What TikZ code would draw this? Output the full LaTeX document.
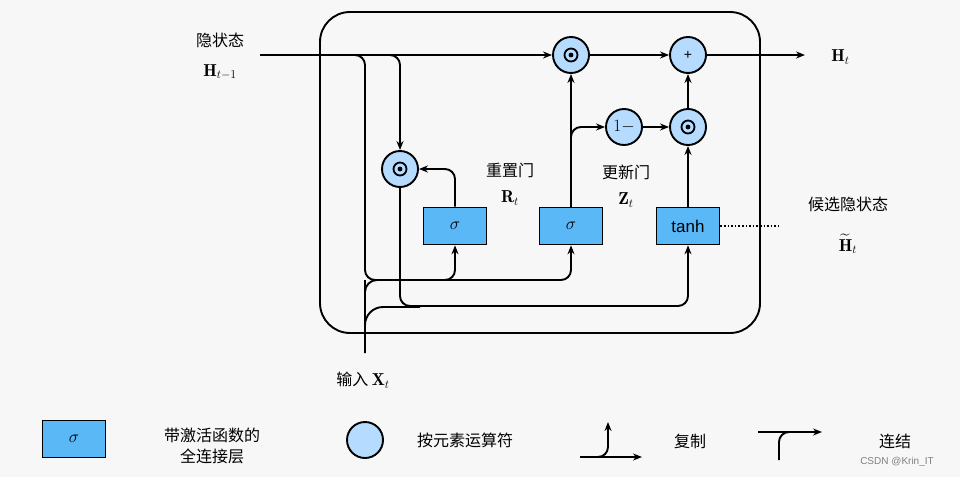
\documentclass[tikz,border=0pt]{standalone}
\usepackage{amsmath,amssymb}
\usepackage{fontspec}
\newfontfamily\sans{Liberation Sans}
\newfontfamily\cjk{Noto Sans CJK SC}
\usetikzlibrary{arrows.meta}
\definecolor{cfill}{HTML}{B5DBFF}
\definecolor{bfill}{HTML}{5AB8F7}
\begin{document}
\begin{tikzpicture}[x=1pt,y=-1pt,
  line width=1.9pt,
  arr/.style={-{Stealth[length=9pt,width=7pt]}},
  op/.style={circle,draw,fill=cfill,minimum size=36pt,inner sep=0pt,line width=1.9pt},
  odot/.style={op,path picture={\draw[line width=1.8pt] (path picture bounding box.center) circle (6.5pt);\fill[black] (path picture bounding box.center) circle (2.4pt);}},
  box/.style={draw,fill=bfill,minimum width=63pt,minimum height=37pt,inner sep=0pt,line width=1.6pt,font=\LARGE},
  lab/.style={font=\cjk\fontsize{16}{16}\selectfont},
  mlab/.style={font=\LARGE}]
\fill[white!97!black] (0,0) rectangle (960,477);
\useasboundingbox (0,0) rectangle (960,477);
% outer box
\draw[rounded corners=30pt] (320,12) rectangle (760,333);
% nodes
\node[odot] (m1) at (571,55) {};
\node[op,font=\sans\fontsize{14}{14}\selectfont] (plus) at (688,55) {+};
\node[op,font=\LARGE] (om) at (624,127) {$1-$};
\node[odot] (m2) at (688,127) {};
\node[odot] (rm) at (400,169) {};
\node[box] (sr) at (455,226) {$\sigma$};
\node[box] (sz) at (571,226) {$\sigma$};
\node[box,font=\sans\fontsize{17}{17}\selectfont] (th) at (688,226) {tanh};
\coordinate (hin) at (260,55);
\coordinate (hout) at (805,55);
\coordinate (xin) at (365,353);
% labels
\node[lab] (l1) at (220,40) {隐状态};
\node[mlab] (l2) at (220,72) {$\mathbf{H}_{t-1}$};
\node[lab] (l3) at (510,170) {重置门};
\node[mlab] (l4) at (510,198) {$\mathbf{R}_t$};
\node[lab] (l5) at (626,172) {更新门};
\node[mlab] (l6) at (626,200) {$\mathbf{Z}_t$};
\node[lab] (l7) at (848,204) {候选隐状态};
\node[mlab] (l8) at (848,244) {$\widetilde{\mathbf{H}}_t$};
\node[mlab,anchor=west] (l9) at (827,57) {$\mathbf{H}_t$};
\node[lab,anchor=west] (l10) at (332,380) {输入 \normalfont\LARGE$\mathbf{X}_t$};
% main flow
\draw[arr] (hin) -- (m1);
\draw[arr] (m1) -- (plus);
\draw[arr] (plus) -- (hout);
\draw[arr] (om) -- (m2);
\draw[arr] (m2) -- (plus);
\draw[arr] (th) -- (m2);
\draw[arr] (sz) -- (m1);
\draw[arr,rounded corners=10pt] (571,140) |- (om.west);
\draw[arr,rounded corners=10pt] (sr.north) |- (rm.east);
\draw[arr,rounded corners=10pt] (355,55) -| (rm.north);
% H branch to gates
\draw[rounded corners=10pt] (350,55) -| (365,280) -- (560,280);
\draw[arr,rounded corners=10pt] (440,280) -| (sr.south);
\draw[arr,rounded corners=10pt] (540,280) -| (sz.south);
% X input
\draw[rounded corners=12pt] (xin) -- (365,292) |- (400,280);
\draw[rounded corners=18pt] (365,330) |- (420,307);
% r*h to tanh
\draw[arr,rounded corners=10pt] (rm.south) |- (688,306) -- (th.south);
\draw[dotted,line width=1.6pt] (th.east) -- (778,226);
% legend
\node[box] (lb) at (74,439) {$\sigma$};
\node[lab,align=center] (lt1) at (212,446) {带激活函数的\\[5pt]全连接层};
\node[op] (lc) at (365,440) {};
\node[lab] (lt2) at (465,440) {按元素运算符};
\coordinate (c1) at (580,457);
\coordinate (c2) at (642,457);
\coordinate (c3) at (608,422);
\draw[arr] (c1) -- (c2);
\draw[arr,rounded corners=10pt] (595,457) -| (c3);
\node[lab] (lt3) at (690,441) {复制};
\coordinate (d1) at (758,432);
\coordinate (d2) at (822,432);
\coordinate (d3) at (779,460);
\draw[arr] (d1) -- (d2);
\draw[rounded corners=10pt] (d3) |- (795,432);
\node[lab] (lt4) at (895,441) {连结};
\node[font=\sans\fontsize{10}{10}\selectfont,text=gray] (wm) at (897,462) {CSDN @Krin\_IT};
\end{tikzpicture}
\end{document}
